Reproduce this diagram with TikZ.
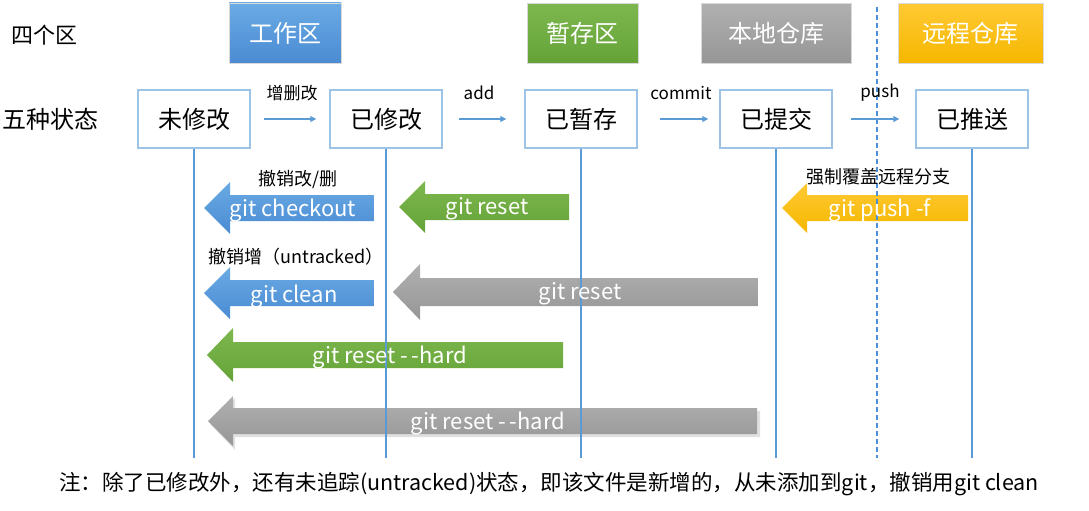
\documentclass[tikz,border=0pt]{standalone}
\usepackage{fontspec}
\setmainfont{Noto Sans CJK SC}
\usetikzlibrary{arrows.meta}
\definecolor{lineblue}{HTML}{5B9BD5}
\definecolor{dashblue}{HTML}{4A90D9}
\definecolor{boxborder}{HTML}{9DC3E6}
\definecolor{bluetop}{HTML}{6AAAE4}
\definecolor{bluebot}{HTML}{4A8BD3}
\definecolor{greentop}{HTML}{7DB84E}
\definecolor{greenbot}{HTML}{64A238}
\definecolor{graytop}{HTML}{B0B0B0}
\definecolor{graybot}{HTML}{969696}
\definecolor{goldtop}{HTML}{FFC933}
\definecolor{goldbot}{HTML}{F5B700}
\newcommand{\fs}[1]{\fontsize{#1}{#1}\selectfont}
% tip x, base x, right x, y, body half, head half
\newcommand{\fatarrow}[7][]{%
  \shade[#1] (#2,#5) -- (#3,#5-#7) -- (#3,#5-#6) -- (#4,#5-#6) -- (#4,#5+#6) -- (#3,#5+#6) -- (#3,#5+#7) -- cycle;}
\tikzset{
  zone/.style={draw=white!85!black, line width=0.6pt, minimum height=60pt, text=white, font=\fs{24}},
  state/.style={draw=boxborder, line width=1.5pt, fill=white, minimum height=58pt, font=\fs{24}},
  small/.style={lineblue, line width=1.1pt, -{Triangle[length=6pt,width=6pt]}},
  vline/.style={lineblue, line width=1.8pt},
  lbl/.style={font=\fs{17}},
  arrtxt/.style={text=white, font=\fs{22}},
  hint/.style={font=\fs{18}},
}
\begin{document}
\begin{tikzpicture}[x=1pt,y=-1pt]
\useasboundingbox (0,0) rectangle (1089,511);

% zone headers
\node[font=\fs{22}] (zl) at (45,35) {四个区};
\node[zone, minimum width=112pt, top color=bluetop, bottom color=bluebot] (z1) at (285,33) {工作区};
\node[zone, minimum width=111pt, top color=greentop, bottom color=greenbot] (z2) at (582.5,33.5) {暂存区};
\node[zone, minimum width=150pt, top color=graytop, bottom color=graybot] (z3) at (776,33.5) {本地仓库};
\node[zone, minimum width=145pt, top color=goldtop, bottom color=goldbot] (z4) at (970.5,33.5) {远程仓库};

% fat arrows
\fatarrow[top color=bluetop, bottom color=bluebot]{204}{230}{374}{208}{13}{26}
\fatarrow[top color=greentop, bottom color=greenbot]{399}{425}{569}{207}{13}{26}
\fatarrow[top color=goldtop, bottom color=goldbot]{782}{807}{968}{208}{13}{25}
\fatarrow[top color=bluetop, bottom color=bluebot]{204}{230}{374}{293}{13}{26}
\fatarrow[top color=graytop, bottom color=graybot]{393}{420}{758}{292}{14}{28}
\fatarrow[top color=greentop, bottom color=greenbot]{207}{233}{563}{355}{13}{27}
\fill[black, opacity=0.12] (210,424) -- (235,398) -- (235,411) -- (760,411) -- (760,437) -- (235,437) -- (235,450) -- cycle;
\fatarrow[top color=graytop, bottom color=graybot]{208}{233}{757}{421}{13}{25}

% state nodes
\node[font=\fs{24}] (sl) at (50,119) {五种状态};
\node[state, minimum width=112pt] (n1) at (194,119) {未修改};
\node[state, minimum width=112pt] (n2) at (386,119) {已修改};
\node[state, minimum width=112pt] (n3) at (581,119) {已暂存};
\node[state, minimum width=112pt] (n4) at (776,119) {已提交};
\node[state, minimum width=112pt] (n5) at (972,119) {已推送};

% vertical lines
\coordinate (bot) at (0,458);
\draw[vline] (n1.south) -- (n1.south |- bot);
\draw[vline] (n2.south) -- (n2.south |- bot);
\draw[vline] (n3.south) -- (n3.south |- bot);
\draw[vline] (n4.south) -- (n4.south |- bot);
\draw[vline] (n5.south) -- (n5.south |- bot);
\coordinate (dtop) at (877,7);
\coordinate (dbot) at (877,458);
\draw[dashblue, line width=1.2pt, dash pattern=on 5pt off 3pt] (dtop) -- (dbot);

% small arrows
\draw[small, shorten <=13pt, shorten >=13pt] (n1.east) -- (n2.west);
\draw[small, shorten <=16pt, shorten >=18pt] (n2.east) -- (n3.west);
\draw[small, shorten <=22pt, shorten >=11pt] (n3.east) -- (n4.west);
\draw[small, shorten <=18pt, shorten >=16pt] (n4.east) -- (n5.west);
\node[lbl] (l1) at (292,93) {增删改};
\node[lbl] (l2) at (479,93) {add};
\node[lbl] (l3) at (681,93) {commit};
\node[lbl] (l4) at (880,93) {push};

% arrow texts
\node[hint] (h1) at (298,179) {撤销改/删};
\node[arrtxt] (a1) at (293,210) {git checkout};
\node[arrtxt] (a2) at (487,209) {git reset};
\node[hint] (h3) at (878,177) {强制覆盖远程分支};
\node[arrtxt] (a3) at (880,210) {git push -f};
\node[hint] (h2) at (296,257) {撤销增（untracked）};
\node[arrtxt] (a4) at (294,296) {git clean};
\node[arrtxt] (a5) at (580,294) {git reset};
\node[arrtxt] (a6) at (390,357) {git reset -\,-hard};
\node[arrtxt] (a7) at (488,423) {git reset -\,-hard};

% note
\node[font=\fs{21.5}] (note) at (549,484) {注：除了已修改外，还有未追踪(untracked)状态，即该文件是新增的，从未添加到git，撤销用git clean};
\end{tikzpicture}
\end{document}
